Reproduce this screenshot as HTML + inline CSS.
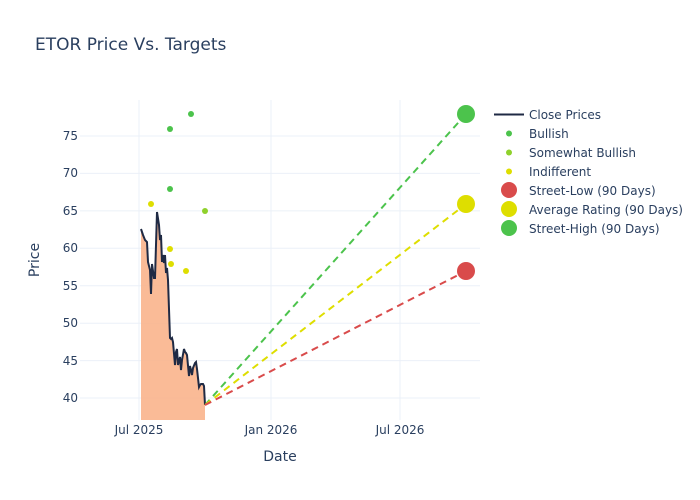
<!DOCTYPE html>
<html><head><meta charset="utf-8"><style>body{margin:0;background:#fff}svg{display:block;font-family:"DejaVu Sans","Liberation Sans",sans-serif}</style></head><body>
<svg width="700" height="500" viewBox="0 0 700 500">
<rect width="700" height="500" fill="#fff"/>
<text x="35" y="50" font-size="17" fill="#2a3f5f">ETOR Price Vs. Targets</text>
<g stroke="#ebf0f8" stroke-width="1">
<line x1="80" x2="480" y1="398" y2="398"/><line x1="80" x2="480" y1="360.6" y2="360.6"/><line x1="80" x2="480" y1="323.2" y2="323.2"/><line x1="80" x2="480" y1="285.7" y2="285.7"/><line x1="80" x2="480" y1="248.3" y2="248.3"/><line x1="80" x2="480" y1="210.9" y2="210.9"/><line x1="80" x2="480" y1="173.4" y2="173.4"/><line x1="80" x2="480" y1="136" y2="136"/>
<line x1="139" x2="139" y1="100" y2="420"/><line x1="271" x2="271" y1="100" y2="420"/><line x1="400" x2="400" y1="100" y2="420"/>
</g>
<g font-size="12" fill="#2a3f5f" text-anchor="end">
<text x="78" y="402">40</text><text x="78" y="365">45</text><text x="78" y="327">50</text><text x="78" y="290">55</text><text x="78" y="252">60</text><text x="78" y="215">65</text><text x="78" y="177">70</text><text x="78" y="140">75</text>
</g>
<g font-size="12" fill="#2a3f5f" text-anchor="middle">
<text x="139" y="434">Jul 2025</text><text x="271" y="434">Jan 2026</text><text x="400" y="434">Jul 2026</text>
</g>
<text x="280" y="461" font-size="14" fill="#2a3f5f" text-anchor="middle">Date</text>
<text x="39" y="260" font-size="14" fill="#2a3f5f" text-anchor="middle" transform="rotate(-90 39 260)">Price</text>
<polygon fill="#f9b48c" fill-opacity="0.9" points="141,420 141,229 143,235 145,240 147,242 148,262 150,270 151,294 152,264 154,278 155,278 156,245 157,212 159,225 160,240 161,235 162,262 163,255 164,263 165,255 166,273 167,268 168,280 170,338 171,339 172,338 173,342 175,365 176,352 177,349 178,365 180,357 181,370 182,360 184,349 185,352 186,353 187,355 189,376 190,366 191,370 192,375 193,368 195,363 196,362 197,369 199,387 200,385 201,384 203,384 204,386 205,405 205,420"/>
<polyline fill="none" stroke="#1f2a44" stroke-width="2" points="141,229 143,235 145,240 147,242 148,262 150,270 151,294 152,264 154,278 155,278 156,245 157,212 159,225 160,240 161,235 162,262 163,255 164,263 165,255 166,273 167,268 168,280 170,338 171,339 172,338 173,342 175,365 176,352 177,349 178,365 180,357 181,370 182,360 184,349 185,352 186,353 187,355 189,376 190,366 191,370 192,375 193,368 195,363 196,362 197,369 199,387 200,385 201,384 203,384 204,386 205,405"/>
<g stroke-width="2" stroke-dasharray="7,5" fill="none">
<line x1="205" y1="405" x2="466" y2="114" stroke="#4cc34c"/>
<line x1="205" y1="405" x2="466" y2="204" stroke="#dede00"/>
<line x1="205" y1="405" x2="466" y2="271" stroke="#d94b4b"/>
</g>
<g>
<circle cx="191" cy="114" r="3" fill="#4cc34c"/><circle cx="170" cy="129" r="3" fill="#4cc34c"/><circle cx="170" cy="189" r="3" fill="#4cc34c"/>
<circle cx="205" cy="211" r="3" fill="#8fd12c"/>
<circle cx="151" cy="204" r="3" fill="#dede00"/><circle cx="170" cy="249" r="3" fill="#dede00"/><circle cx="171" cy="264" r="3" fill="#dede00"/><circle cx="186" cy="271" r="3" fill="#dede00"/>
<circle cx="466" cy="114" r="9" fill="#4cc34c"/><circle cx="466" cy="204" r="9" fill="#dede00"/><circle cx="466" cy="271" r="9" fill="#d94b4b"/>
</g>
<g font-size="12" fill="#2a3f5f">
<line x1="494" x2="524" y1="114.5" y2="114.5" stroke="#1f2a44" stroke-width="2"/><text x="529" y="119">Close Prices</text>
<circle cx="509" cy="133.5" r="3" fill="#4cc34c"/><text x="529" y="138">Bullish</text>
<circle cx="509" cy="152.5" r="3" fill="#8fd12c"/><text x="529" y="157">Somewhat Bullish</text>
<circle cx="509" cy="171.5" r="3" fill="#dede00"/><text x="529" y="176">Indifferent</text>
<circle cx="509" cy="190" r="8" fill="#d94b4b"/><text x="529" y="195">Street-Low (90 Days)</text>
<circle cx="509" cy="209" r="8" fill="#dede00"/><text x="529" y="214">Average Rating (90 Days)</text>
<circle cx="509" cy="228" r="8" fill="#4cc34c"/><text x="529" y="233">Street-High (90 Days)</text>
</g>
</svg>
</body></html>
